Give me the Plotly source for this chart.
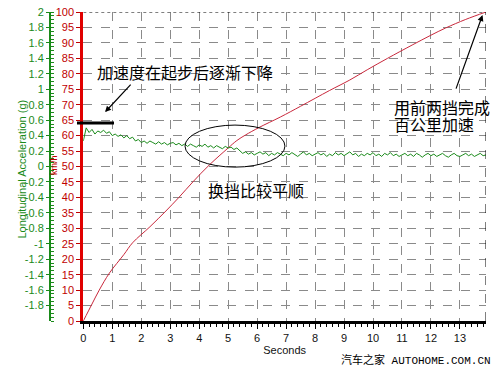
import plotly.graph_objects as go

# ---- data ----
time_s = [
    0.0, 0.1, 0.2, 0.3, 0.4, 0.5, 0.6, 0.7, 0.8, 0.9,
    1.0, 1.1, 1.2, 1.3, 1.4, 1.5, 1.6, 1.7, 1.8, 1.9,
    2.0, 2.1, 2.2, 2.3, 2.4, 2.5, 2.6, 2.7, 2.8, 2.9,
    3.0, 3.1, 3.2, 3.3, 3.4, 3.5, 3.6, 3.7, 3.8, 3.9,
    4.0, 4.1, 4.2, 4.3, 4.4, 4.5, 4.6, 4.7, 4.8, 4.9,
    5.0, 5.1, 5.2, 5.3, 5.4, 5.5, 5.6, 5.7, 5.8, 5.9,
    6.0, 6.1, 6.2, 6.3, 6.4, 6.5, 6.6, 6.7, 6.8, 6.9,
    7.0, 7.1, 7.2, 7.3, 7.4, 7.5, 7.6, 7.7, 7.8, 7.9,
    8.0, 8.1, 8.2, 8.3, 8.4, 8.5, 8.6, 8.7, 8.8, 8.9,
    9.0, 9.1, 9.2, 9.3, 9.4, 9.5, 9.6, 9.7, 9.8, 9.9,
    10.0, 10.1, 10.2, 10.3, 10.4, 10.5, 10.6, 10.7, 10.8, 10.9,
    11.0, 11.1, 11.2, 11.3, 11.4, 11.5, 11.6, 11.7, 11.8, 11.9,
    12.0, 12.1, 12.2, 12.3, 12.4, 12.5, 12.6, 12.7, 12.8, 12.9,
    13.0, 13.1, 13.2, 13.3, 13.4, 13.5, 13.6, 13.7, 13.8, 13.9,
]
accel_g = [
    0.33, 0.50, 0.44, 0.48, 0.42, 0.46, 0.44, 0.47, 0.43, 0.45,
    0.40, 0.42, 0.39, 0.41, 0.37, 0.40, 0.36, 0.38, 0.33, 0.35,
    0.31, 0.33, 0.30, 0.33, 0.31, 0.29, 0.32, 0.29, 0.31, 0.28,
    0.30, 0.31, 0.28, 0.30, 0.27, 0.29, 0.26, 0.29, 0.27, 0.25,
    0.28, 0.26, 0.29, 0.25, 0.27, 0.24, 0.27, 0.25, 0.23, 0.26,
    0.24, 0.25, 0.22, 0.24, 0.20, 0.17, 0.19, 0.16, 0.18, 0.15,
    0.17, 0.19, 0.16, 0.18, 0.14, 0.17, 0.15, 0.18, 0.16, 0.14,
    0.17, 0.15, 0.18, 0.16, 0.13, 0.16, 0.19, 0.15, 0.17, 0.14,
    0.16, 0.18, 0.15, 0.17, 0.13, 0.16, 0.14, 0.18, 0.15, 0.17,
    0.14, 0.16, 0.19, 0.15, 0.17, 0.13, 0.16, 0.14, 0.17, 0.15,
    0.18, 0.14, 0.16, 0.13, 0.17, 0.15, 0.18, 0.14, 0.16, 0.13,
    0.15, 0.17, 0.14, 0.16, 0.13, 0.17, 0.15, 0.12, 0.15, 0.17,
    0.14, 0.16, 0.13, 0.15, 0.17, 0.14, 0.12, 0.15, 0.17, 0.14,
    0.13, 0.15, 0.17, 0.14, 0.16, 0.13, 0.15, 0.17, 0.14, 0.15,
]

speed_t = [0.0, 0.3, 0.55, 0.9, 1.4, 1.7, 2.3, 2.85, 3.3, 3.8, 4.35, 5.0,
           5.3, 5.6, 6.06, 6.8, 7.5, 8.5, 9.2, 9.8, 10.5, 11.35, 12.0, 12.5,
           13.2, 13.9]
speed_kmh = [0.0, 5.5, 10.0, 15.5, 21.5, 25.3, 30.5, 35.6, 40.0, 45.2, 50.5, 56.0,
             58.4, 60.2, 62.6, 66.0, 69.5, 74.6, 78.0, 81.3, 85.0, 89.3, 92.5, 94.8,
             97.6, 100.0]

speed_ticks = [0, 5, 10, 15, 20, 25, 30, 35, 40, 45, 50, 55, 60, 65, 70, 75, 80, 85, 90, 95, 100]
accel_ticks = [-1.8, -1.6, -1.4, -1.2, -1, -0.8, -0.6, -0.4, -0.2, 0,
               0.2, 0.4, 0.6, 0.8, 1, 1.2, 1.4, 1.6, 1.8, 2]
accel_ticktext = ["-1.8", "-1.6", "-1.4", "-1.2", "-1", "-0.8", "-0.6", "-0.4", "-0.2", "0",
                  "0.2", "0.4", "0.6", "0.8", "1", "1.2", "1.4", "1.6", "1.8", "2"]
second_ticks = [0, 1, 2, 3, 4, 5, 6, 7, 8, 9, 10, 11, 12, 13]

RED = "#c00000"
GREEN = "#1a8a1a"
CJK = "Noto Sans CJK SC"

fig = go.Figure()
fig.add_trace(go.Scatter(x=time_s, y=accel_g, yaxis="y2", mode="lines",
                         line=dict(color=GREEN, width=1), hoverinfo="skip"))
fig.add_trace(go.Scatter(x=speed_t, y=speed_kmh, yaxis="y", mode="lines",
                         line=dict(color="#c8283c", width=1, shape="spline"), hoverinfo="skip"))

fig.update_layout(
    width=500, height=370,
    margin=dict(l=42, r=22, t=4, b=57),
    paper_bgcolor="white", plot_bgcolor="white",
    showlegend=False,
    font=dict(family="Liberation Sans, Arial", size=11, color="#111"),
    xaxis=dict(
        domain=[0.0764, 1], range=[0, 13.9], automargin=False,
        tickvals=second_ticks, ticks="outside", ticklen=5, tickcolor="#000",
        minor=dict(dtick=0.2, ticks="outside", ticklen=3, tickcolor="#000", showgrid=False),
        showgrid=True, gridcolor="#8a8a8a", griddash="dash", gridwidth=1,
        showline=True, linecolor="#000", linewidth=3,
        zeroline=False, tickfont=dict(size=11, color="#111"),
        title=dict(text="Seconds", font=dict(size=11, color="#111"), standoff=3),
    ),
    yaxis=dict(
        range=[0, 100], tickvals=speed_ticks, ticks="outside", ticklen=4, tickcolor=RED,
        automargin=False, ticklabeloverflow="allow",
        showgrid=True, gridcolor="#8a8a8a", griddash="dash", gridwidth=1,
        showline=True, linecolor="#e00000", linewidth=3,
        zeroline=False, tickfont=dict(size=11, color=RED),
    ),
    yaxis2=dict(
        range=[-2, 2], overlaying="y", anchor="free", position=0, side="left",
        automargin=False, ticklabeloverflow="allow",
        tickvals=accel_ticks, ticktext=accel_ticktext,
        ticks="outside", ticklen=3, tickcolor=GREEN,
        minor=dict(dtick=0.05, ticks="inside", ticklen=3, tickcolor=GREEN),
        showgrid=False, zeroline=False,
        showline=True, linecolor=GREEN, linewidth=2,
        tickfont=dict(size=11, color=GREEN),
    ),
)

shapes = [
    # top dotted border
    dict(type="line", xref="x", yref="y", x0=0, x1=13.9, y0=100, y1=100,
         line=dict(color="#000", width=1, dash="dot")),
    # right dashed border
    dict(type="line", xref="x", yref="y", x0=13.9, x1=13.9, y0=0, y1=100,
         line=dict(color="#000", width=1, dash="dash")),
    # thick bar marking initial acceleration
    dict(type="line", xref="paper", yref="y", x0=0.0619, x1=0.1468, y0=64.1, y1=64.1,
         line=dict(color="#000", width=3)),
    # ellipse around gear change
    dict(type="circle", xref="x", yref="y", x0=3.51, x1=6.96, y0=49.8, y1=63.4,
         line=dict(color="#000", width=1)),
]
fig.update_layout(shapes=shapes)

ann = [
    dict(x=3.51, y=80.6, xref="x", yref="y", text="加速度在起步后逐渐下降", showarrow=False,
         font=dict(family=CJK, size=16, color="#000")),
    dict(x=0.75, y=67.6, xref="x", yref="y", text="", showarrow=True,
         ax=27, ay=-29, arrowhead=2, arrowsize=1, arrowwidth=1.2, arrowcolor="#000"),
    dict(x=10.64, y=69.4, xref="x", yref="y", text="用前两挡完成", showarrow=False,
         xanchor="left", font=dict(family=CJK, size=16, color="#000")),
    dict(x=10.64, y=63.9, xref="x", yref="y", text="百公里加速", showarrow=False,
         xanchor="left", font=dict(family=CJK, size=16, color="#000")),
    dict(x=13.78, y=99, xref="x", yref="y", text="", showarrow=True,
         ax=-27, ay=75, arrowhead=2, arrowsize=1, arrowwidth=1.2, arrowcolor="#000"),
    dict(x=5.95, y=42.4, xref="x", yref="y", text="换挡比较平顺", showarrow=False,
         font=dict(family=CJK, size=16, color="#000")),
    dict(x=(14 - 50) / 436, y=0.49, xref="paper", yref="paper", text="Longitudinal Acceleration (g)",
         showarrow=False, textangle=-90, font=dict(size=11, color=GREEN)),
    dict(x=(47 - 50) / 436, y=0.505, xref="paper", yref="paper", text="km/h",
         showarrow=False, textangle=-90, font=dict(size=9, color=RED)),
    dict(x=(493 - 50) / 436, y=-0.126, xref="paper", yref="paper", text="汽车之家 AUTOHOME.COM.CN",
         showarrow=False, xanchor="right", yanchor="middle",
         font=dict(family="Liberation Mono, Noto Sans CJK SC", size=11, color="#000")),
]
fig.update_layout(annotations=ann)

fig.write_html("out.html")
